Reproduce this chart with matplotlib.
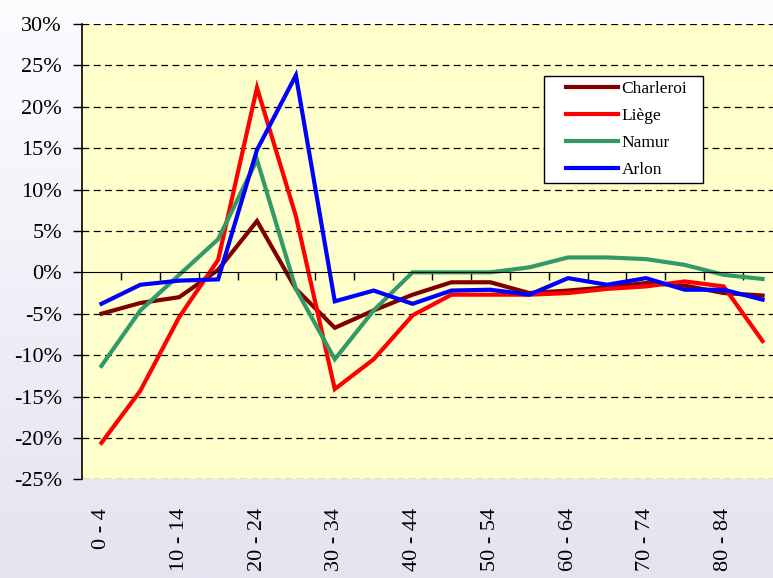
import numpy as np
import matplotlib
matplotlib.use("Agg")
from matplotlib import pyplot as plt
from matplotlib import transforms
from matplotlib.patches import Rectangle
from matplotlib.ticker import FuncFormatter

# age groups (18 categories, every other one is labelled)
categories = ["0 - 4", "5 - 9", "10 - 14", "15 - 19", "20 - 24", "25 - 29",
              "30 - 34", "35 - 39", "40 - 44", "45 - 49", "50 - 54", "55 - 59",
              "60 - 64", "65 - 69", "70 - 74", "75 - 79", "80 - 84", "85 - 89"]

# values in %
charleroi = [-5.0, -3.7, -3.0, 0.3, 6.2, -2.0, -6.7, -4.6, -2.7, -1.2,
             -1.2, -2.5, -2.2, -1.8, -1.3, -1.6, -2.5, -2.8]
liege = [-20.6, -14.3, -5.4, 1.5, 22.3, 6.8, -14.1, -10.5, -5.2, -2.7,
         -2.7, -2.7, -2.5, -2.0, -1.7, -1.1, -1.7, -8.3]
namur = [-11.3, -4.6, -0.3, 4.0, 13.6, -2.0, -10.5, -4.6, 0.0, 0.0,
         0.0, 0.6, 1.8, 1.8, 1.6, 0.9, -0.3, -0.8]
arlon = [-3.8, -1.5, -1.0, -0.85, 14.8, 23.8, -3.5, -2.2, -3.8, -2.2,
         -2.1, -2.7, -0.7, -1.5, -0.7, -2.1, -2.1, -3.3]

series = [("Charleroi", charleroi, "#800000"),
          ("Liège", liege, "#FF0000"),
          ("Namur", namur, "#339966"),
          ("Arlon", arlon, "#0000FF")]

yticks = list(range(-25, 31, 5))

W, H = 773, 578
fig = plt.figure(figsize=(W / 100, H / 100), dpi=100)

# light gradient background of the chart area
bg = fig.add_axes([0, 0, 1, 1], zorder=-10)
grad = np.linspace(0, 1, 256).reshape(-1, 1)
top = np.array([252, 252, 255]) / 255
bot = np.array([228, 228, 241]) / 255
img = top + (bot - top) * grad[:, :, None]
bg.imshow(img, aspect="auto", extent=[0, 1, 0, 1])
bg.axis("off")

left, right, ytop, ybot = 82, 782, 24, 479.3
ax = fig.add_axes([left / W, 1 - ybot / H, (right - left) / W, (ybot - ytop) / H])
ax.set_facecolor("#FFFFCC")

x = np.arange(len(categories))
for name, vals, col in series:
    ax.plot(x, vals, color=col, lw=3, label=name, solid_joinstyle="miter")

ax.set_xlim(-0.5, len(categories) - 0.5)
ax.set_ylim(-25, 30)
ax.set_yticks(yticks)
ax.yaxis.set_major_formatter(FuncFormatter(lambda v, p: "%d%%" % v))
for v in yticks:
    if v != 0:
        ax.axhline(v, color="black", lw=0.9, ls=(0, (5.5, 3.5)), zorder=0.5)

serif = "Liberation Serif"
ax.tick_params(axis="y", direction="out", length=6.5, width=1, pad=8,
               labelsize=16)
for lab in ax.get_yticklabels():
    lab.set_fontfamily(serif)

# category axis crosses at 0, ticks between categories
for s in ["top", "right"]:
    ax.spines[s].set_visible(False)
ax.spines["bottom"].set_position(("data", 0))
ax.spines["left"].set_linewidth(1.2)
ax.set_xticks(np.arange(0.5, len(categories) - 0.5, 1))
ax.tick_params(axis="x", direction="out", length=6, width=1, labelbottom=False)

trans = transforms.blended_transform_factory(ax.transData, ax.transAxes)
for i, c in enumerate(categories):
    if i % 2 == 0:
        ax.text(i, -0.063, c, rotation=90, ha="center", va="top",
                fontsize=16, family=serif, transform=trans)

# legend box
box = Rectangle((544 / W, 1 - 183 / H), 159 / W, 107 / H,
                transform=fig.transFigure, facecolor="white",
                edgecolor="black", lw=1, zorder=4.9)
ax.add_patch(box)
box.set_clip_on(False)
ax.legend(loc="upper left", bbox_to_anchor=(566 / W, 1 - 81 / H),
          bbox_transform=fig.transFigure, borderaxespad=0, borderpad=0,
          prop={"family": serif, "size": 12.5}, handlelength=3.0,
          handletextpad=0.2, labelspacing=0.62, frameon=False)

fig.savefig("out.png", dpi=100)
